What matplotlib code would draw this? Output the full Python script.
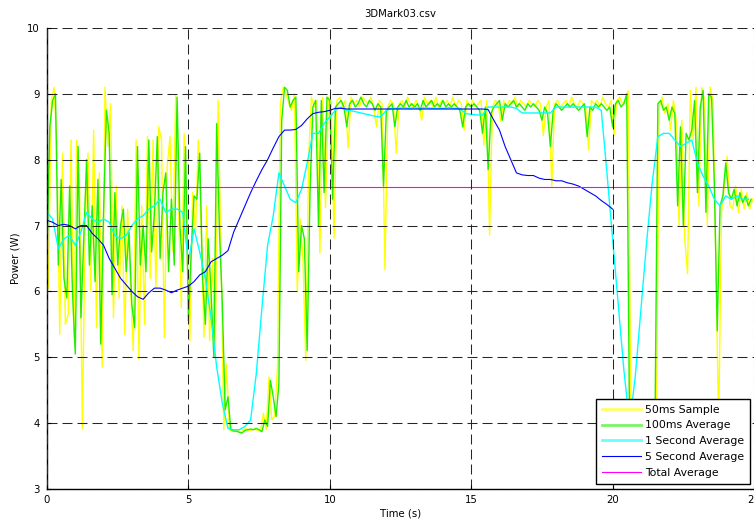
import matplotlib
matplotlib.use("Agg")
import matplotlib.pyplot as plt
import numpy as np

plt.rcParams['font.family'] = ['DejaVu Sans']

# sample spacing of the traces (seconds)
SAMPLE_DT = 0.1
SMOOTH_DT = 0.2

# 50 ms raw samples (drawn at the odd 50 ms ticks)
SAMPLE_50MS = [
    6.05, 8.9, 9.1, 8.2, 5.35, 8.1, 5.5, 5.65, 8.3, 5.3,
    8.3, 7.6, 3.92, 7.0, 8.1, 6.0, 8.45, 5.45, 7.8, 4.85,
    9.1, 8.2, 8.85, 5.6, 7.6, 5.9, 7.3, 5.35, 7.25, 6.1,
    5.1, 8.3, 4.97, 7.3, 5.5, 8.35, 6.2, 8.3, 6.05, 8.5,
    8.3, 5.3, 7.9, 8.35, 6.6, 8.98, 7.3, 5.75, 8.4, 6.6,
    5.25, 7.5, 6.9, 8.3, 7.0, 5.3, 7.3, 5.25, 6.5, 5.0,
    8.9, 6.6, 3.9, 4.9, 3.9, 3.88, 3.87, 3.9, 3.86, 3.9,
    3.92, 3.88, 3.9, 3.91, 3.89, 3.88, 4.15, 3.9, 4.7, 4.05,
    4.1, 4.85, 8.85, 9.1, 9.0, 8.85, 8.75, 9.0, 6.0, 7.1,
    6.5, 4.95, 8.0, 8.95, 8.8, 8.9, 6.58, 8.95, 7.27, 8.95,
    8.9, 6.81, 8.9, 8.95, 8.8, 8.9, 8.18, 8.95, 8.85, 8.9,
    8.8, 8.95, 8.9, 8.85, 8.95, 8.8, 8.5, 8.9, 8.85, 6.33,
    8.8, 8.9, 8.85, 8.1, 8.85, 8.9, 8.8, 8.95, 8.85, 8.8,
    8.9, 8.8, 8.6, 8.95, 8.85, 8.9, 8.8, 8.95, 8.8, 8.9,
    8.85, 8.9, 8.8, 8.95, 8.8, 8.9, 8.85, 8.45, 8.9, 8.8,
    8.9, 8.8, 8.85, 8.9, 8.22, 8.9, 6.86, 8.8, 8.9, 8.85,
    8.58, 8.9, 8.8, 8.9, 8.85, 8.95, 8.8, 8.9, 8.85, 8.8,
    8.9, 8.85, 8.8, 8.9, 8.85, 8.37, 8.8, 8.9, 7.6, 8.85,
    8.9, 8.8, 8.85, 8.9, 8.8, 8.95, 8.85, 8.8, 8.9, 8.85,
    8.8, 8.15, 8.9, 8.85, 8.9, 8.8, 8.95, 8.85, 8.8, 8.9,
    8.37, 8.9, 8.95, 8.85, 8.9, 9.05, 3.9, 3.88, 3.9, 3.9,
    3.88, 3.9, 3.9, 3.92, 3.95, 4.2, 8.8, 8.95, 8.7, 8.85,
    8.45, 8.9, 8.6, 7.0, 8.6, 6.8, 6.27, 9.05, 8.3, 9.1,
    7.3, 9.1, 8.9, 7.0, 9.1, 8.9, 6.5, 3.9, 7.2, 7.6,
    8.05, 7.3, 7.25, 7.6, 7.2, 7.55, 7.25, 7.5, 7.25, 7.4,
]

# 100 ms average
AVG_100MS = [
    6.6, 8.5, 8.9, 9.0, 6.4, 7.7, 6.2, 5.9, 7.6, 6.0,
    5.05, 8.2, 5.6, 6.8, 8.0, 6.4, 7.3, 6.15, 7.7, 5.2,
    7.2, 8.75, 8.4, 5.95, 7.5, 6.4, 7.0, 7.25, 6.3, 6.9,
    5.8, 5.45, 8.2, 6.4, 7.0, 6.3, 8.3, 6.6, 7.2, 8.35,
    6.5, 7.5, 7.8, 6.3, 7.4, 6.4, 8.95, 7.0, 6.3, 8.2,
    5.55, 6.6, 7.45, 7.4, 8.1, 6.2, 5.5, 6.8, 6.0, 5.0,
    8.55, 6.9, 5.8, 4.2, 4.4, 3.9, 3.88, 3.88, 3.86, 3.85,
    3.89, 3.9, 3.91, 3.9, 3.92, 3.9, 3.87, 4.05, 3.95, 4.65,
    4.4, 4.1, 4.6, 8.6, 9.1, 9.05, 8.8, 8.9, 8.95, 6.3,
    7.0, 6.8, 5.1, 7.5, 8.8, 8.9, 7.0, 8.9, 7.5, 8.95,
    8.9, 7.4, 8.8, 8.85, 8.9, 8.8, 8.5, 8.85, 8.9, 8.8,
    8.85, 8.95, 8.85, 8.8, 8.9, 8.85, 8.75, 8.85, 8.8, 7.6,
    8.75, 8.8, 8.85, 8.5, 8.8, 8.85, 8.8, 8.9, 8.8, 8.85,
    8.8, 8.85, 8.75, 8.9, 8.8, 8.85, 8.9, 8.8, 8.85, 8.8,
    8.9, 8.8, 8.85, 8.8, 8.85, 8.8, 8.75, 8.5, 8.8, 8.85,
    8.8, 8.85, 8.8, 8.75, 8.4, 8.8, 7.85, 8.7, 8.8, 8.85,
    8.9, 8.6, 8.85, 8.8, 8.85, 8.9, 8.8, 8.85, 8.8, 8.75,
    8.85, 8.8, 8.85, 8.8, 8.75, 8.6, 8.8, 8.7, 8.2, 8.75,
    8.85, 8.8, 8.75, 8.8, 8.85, 8.8, 8.85, 8.8, 8.75, 8.8,
    8.85, 8.35, 8.8, 8.75, 8.85, 8.8, 8.85, 8.8, 8.75, 8.8,
    8.5, 8.85, 8.9, 8.8, 8.85, 9.0, 3.9, 3.88, 3.9, 3.88,
    3.9, 3.88, 3.9, 3.9, 3.95, 4.0, 8.85, 8.9, 8.75, 8.8,
    8.6, 8.8, 8.7, 7.3, 8.5, 7.0, 8.4, 8.3, 8.45, 8.9,
    7.5, 8.8, 9.05, 7.2, 9.0, 8.95, 7.6, 5.4, 7.3, 7.45,
    7.95, 7.5, 7.4, 7.55, 7.3, 7.5, 7.35, 7.45, 7.3, 7.4,
]

# 1 second average, every 0.2 s
AVG_1S = [
    7.2, 7.1, 6.65, 6.8, 6.85, 6.7, 6.9, 7.2, 7.1, 7.05,
    7.1, 7.05, 6.85, 6.8, 6.85, 7.0, 7.1, 7.15, 7.25, 7.3,
    7.4, 7.2, 7.25, 7.25, 7.2, 6.45, 6.95, 6.6, 6.2, 5.6,
    4.85, 4.3, 3.92, 3.9, 3.9, 3.95, 4.05, 4.75, 5.75, 6.7,
    7.15, 7.8, 7.6, 7.4, 7.35, 7.55, 7.95, 8.4, 8.4, 8.55,
    8.65, 8.75, 8.8, 8.75, 8.74, 8.72, 8.7, 8.68, 8.66, 8.65,
    8.75, 8.78, 8.78, 8.79, 8.78, 8.79, 8.78, 8.79, 8.78, 8.78,
    8.78, 8.79, 8.78, 8.78, 8.7, 8.69, 8.68, 8.68, 8.8, 8.8,
    8.8, 8.8, 8.8, 8.78, 8.71, 8.71, 8.71, 8.71, 8.71, 8.71,
    8.8, 8.8, 8.8, 8.8, 8.8, 8.8, 8.8, 8.8, 8.75, 7.8,
    6.8, 5.8, 4.8, 4.0, 4.7, 5.72, 6.73, 7.65, 8.35, 8.4,
    8.4, 8.3, 8.2, 8.25, 8.3, 7.95, 7.75, 7.6, 7.4, 7.3,
    7.45, 7.4, 7.45, 7.4, 7.4,
]

# 5 second average, every 0.2 s up to 20 s
AVG_5S = [
    7.08, 7.05, 7.0, 7.02, 7.0, 6.95, 7.0, 7.0, 6.88, 6.8,
    6.7, 6.5, 6.35, 6.2, 6.1, 6.0, 5.92, 5.88, 5.98, 6.05,
    6.05, 6.02, 5.98, 6.02, 6.05, 6.08, 6.15, 6.25, 6.3, 6.45,
    6.5, 6.55, 6.62, 6.9, 7.1, 7.3, 7.5, 7.68, 7.85, 8.0,
    8.18, 8.35, 8.45, 8.45, 8.46, 8.52, 8.62, 8.7, 8.72, 8.73,
    8.75, 8.78, 8.78, 8.77, 8.77, 8.77, 8.77, 8.77, 8.77, 8.77,
    8.77, 8.77, 8.77, 8.77, 8.77, 8.77, 8.77, 8.77, 8.77, 8.77,
    8.77, 8.77, 8.77, 8.77, 8.77, 8.77, 8.77, 8.77, 8.76, 8.6,
    8.45, 8.2, 8.0, 7.8, 7.77, 7.76, 7.76, 7.72, 7.7, 7.7,
    7.68, 7.68, 7.65, 7.63, 7.6, 7.55, 7.5, 7.45, 7.38, 7.32,
    7.25,
]

TOTAL_AVERAGE = 7.58

LABELS = ['50ms Sample', '100ms Average', '1 Second Average',
          '5 Second Average', 'Total Average']


def main():
    t_100 = np.arange(len(AVG_100MS)) * SAMPLE_DT
    t_50 = np.arange(len(SAMPLE_50MS)) * SAMPLE_DT + SAMPLE_DT / 2
    t_1s = np.arange(len(AVG_1S)) * SMOOTH_DT
    t_5s = np.arange(len(AVG_5S)) * SMOOTH_DT

    fig = plt.figure(figsize=(7.54, 5.22), dpi=100)
    ax = fig.add_axes([47 / 754, 1 - 489 / 522, 707 / 754, 461 / 522])

    ax.plot(t_50, SAMPLE_50MS, color='#ffff00', lw=1.0, label=LABELS[0])
    ax.plot(t_100, AVG_100MS, color='#22ee00', lw=1.0, label=LABELS[1])
    ax.plot(t_1s, AVG_1S, color='#00ffff', lw=1.0, label=LABELS[2])
    ax.plot(t_5s, AVG_5S, color='#0000ff', lw=0.8, label=LABELS[3])
    ax.axhline(TOTAL_AVERAGE, color='#ff00ff', lw=0.8, label=LABELS[4])

    ax.set_xlim(0, 25)
    ax.set_ylim(3, 10)
    ax.set_xticks(np.arange(0, 26, 5))
    ax.set_yticks(np.arange(3, 11, 1))
    ax.grid(True, color='0.15', lw=0.75, linestyle=(0, (9.6, 4.8)))
    ax.set_axisbelow(False)

    for side in ('top', 'right'):
        ax.spines[side].set_visible(False)
    for side in ('left', 'bottom'):
        ax.spines[side].set_linewidth(1.0)
    ax.tick_params(direction='in', length=3, width=0.8, labelsize=7.3)
    ax.tick_params(axis='x', pad=4)
    ax.tick_params(axis='y', pad=5)

    ax.set_title('3DMark03.csv', fontsize=7.3, pad=8)
    ax.set_xlabel('Time (s)', fontsize=7.3, labelpad=3)
    ax.set_ylabel('Power (W)', fontsize=7.3, labelpad=5)

    leg = ax.legend(loc='lower right', bbox_to_anchor=(0.994, 0.011),
                    borderaxespad=0, fancybox=False, edgecolor='black',
                    framealpha=1, fontsize=7.8, handlelength=3.6,
                    handletextpad=0.3, labelspacing=0.54, borderpad=0.55)
    leg.get_frame().set_linewidth(1.0)
    for line in leg.get_lines()[:3]:
        line.set_linewidth(2.0)
        line.set_alpha(0.6)

    fig.savefig('out.png', dpi=100)


if __name__ == '__main__':
    main()
